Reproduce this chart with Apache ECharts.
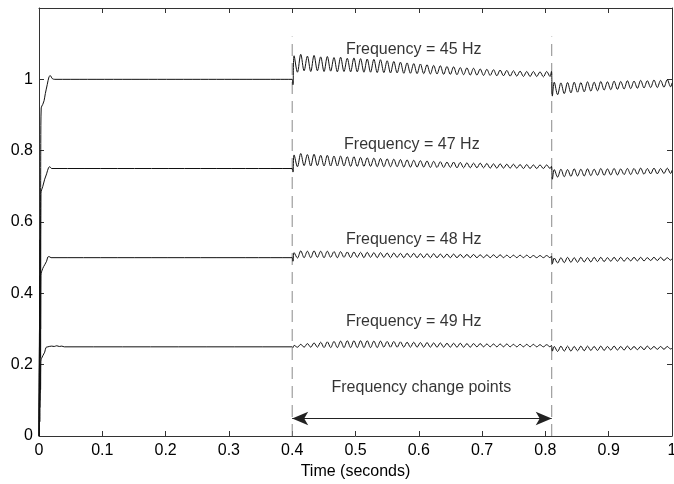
<!DOCTYPE html>
<html>
<head>
<meta charset="utf-8">
<script src="https://cdn.jsdelivr.net/npm/echarts/dist/echarts.min.js"></script>
<style>
html,body{margin:0;padding:0;background:#fff;}
#chart{width:674px;height:484px;}
</style>
</head>
<body>
<div id="chart"></div>
<script>
// ---------------- data ----------------
const xTicks = [0, 0.1, 0.2, 0.3, 0.4, 0.5, 0.6, 0.7, 0.8, 0.9, 1];
const yTicks = [0, 0.2, 0.4, 0.6, 0.8, 1];
const seriesNames = ['45 Hz', '47 Hz', '48 Hz', '49 Hz'];
const levels = [1, 0.75, 0.5, 0.25];

// start-up transients
const startT = [
  [0, 0.0008, 0.0012, 0.0018, 0.0022, 0.0028, 0.0035, 0.006, 0.008, 0.010, 0.013, 0.016, 0.018, 0.021, 0.025],
  [0, 0.0008, 0.0012, 0.0018, 0.0025, 0.003, 0.006, 0.009, 0.012, 0.015, 0.017, 0.020],
  [0, 0.0008, 0.0012, 0.0018, 0.0025, 0.003, 0.006, 0.009, 0.012, 0.014, 0.016, 0.019],
  [0, 0.0008, 0.0012, 0.0018, 0.0025, 0.003, 0.006, 0.009, 0.011, 0.014, 0.020, 0.024, 0.028, 0.032, 0.036, 0.040]
];
const startY = [
  [0, 0.30, 0.12, 0.55, 0.35, 0.82, 0.92, 0.93, 0.94, 0.96, 0.985, 1.008, 1.010, 1.002, 1.000],
  [0, 0.25, 0.10, 0.45, 0.30, 0.68, 0.70, 0.72, 0.735, 0.752, 0.755, 0.750],
  [0, 0.20, 0.08, 0.40, 0.22, 0.45, 0.47, 0.48, 0.49, 0.502, 0.503, 0.500],
  [0, 0.12, 0.04, 0.20, 0.13, 0.21, 0.225, 0.235, 0.248, 0.250, 0.252, 0.251, 0.253, 0.251, 0.252, 0.250]
];

// event times: first change, dip after it, last peak before second change, drop, end
const eventTimes = [0.4, 0.4012, 0.8095, 0.8110, 1.0];
const dipAt04 = [0.985, 0.740, 0.490, 0.248];
const peakBefore081 = [1.022, 0.756, 0.504, 0.254];
const dropAt081 = [0.953, 0.720, 0.483, 0.238];
const endValues = [0.990, 0.745, 0.497, 0.246];

// oscillation sample times (peaks / troughs) between the change points
const tA = [
  0.4030, 0.4083, 0.4135, 0.4188, 0.4240, 0.4293, 0.4345, 0.4398, 0.4450, 0.4503,
  0.4555, 0.4608, 0.4660, 0.4713, 0.4765, 0.4818, 0.4870, 0.4923, 0.4975, 0.5028,
  0.5080, 0.5133, 0.5185, 0.5238, 0.5290, 0.5343, 0.5395, 0.5448, 0.5500, 0.5553,
  0.5605, 0.5658, 0.5710, 0.5763, 0.5815, 0.5868, 0.5920, 0.5973, 0.6025, 0.6078,
  0.6130, 0.6183, 0.6235, 0.6288, 0.6340, 0.6393, 0.6445, 0.6498, 0.6550, 0.6603,
  0.6655, 0.6708, 0.6760, 0.6813, 0.6865, 0.6918, 0.6970, 0.7023, 0.7075, 0.7128,
  0.7180, 0.7233, 0.7285, 0.7338, 0.7390, 0.7443, 0.7495, 0.7548, 0.7600, 0.7653,
  0.7705, 0.7758, 0.7810, 0.7863, 0.7915, 0.7968, 0.8020, 0.8073
];
const tB = [
  0.8140, 0.8193, 0.8245, 0.8298, 0.8350, 0.8403, 0.8455, 0.8508, 0.8560, 0.8613,
  0.8665, 0.8718, 0.8770, 0.8823, 0.8875, 0.8928, 0.8980, 0.9033, 0.9085, 0.9138,
  0.9190, 0.9243, 0.9295, 0.9348, 0.9400, 0.9453, 0.9505, 0.9558, 0.9610, 0.9663,
  0.9715, 0.9768, 0.9820, 0.9873, 0.9925, 0.9978
];

const osc45A = [
  1.066,1.020, 1.070,1.024, 1.065,1.022, 1.067,1.024, 1.063,1.022,
  1.064,1.023, 1.061,1.021, 1.062,1.022, 1.059,1.021, 1.060,1.021,
  1.058,1.020, 1.057,1.020, 1.056,1.019, 1.055,1.019, 1.052,1.018,
  1.050,1.018, 1.048,1.017, 1.046,1.017, 1.044,1.016, 1.043,1.016,
  1.041,1.015, 1.039,1.015, 1.038,1.014, 1.036,1.014, 1.035,1.013,
  1.033,1.013, 1.032,1.012, 1.031,1.012, 1.029,1.011, 1.028,1.011,
  1.027,1.010, 1.026,1.010, 1.025,1.009, 1.024,1.009, 1.023,1.008,
  1.022,1.008, 1.022,1.008, 1.021,1.007, 1.022,1.008
];
const osc47A = [
  0.788,0.755, 0.792,0.758, 0.789,0.757, 0.790,0.758, 0.787,0.757,
  0.787,0.757, 0.785,0.757, 0.785,0.757, 0.783,0.756, 0.783,0.756,
  0.781,0.756, 0.780,0.756, 0.779,0.755, 0.778,0.755, 0.777,0.755,
  0.776,0.755, 0.775,0.754, 0.774,0.754, 0.773,0.754, 0.772,0.754,
  0.771,0.753, 0.770,0.753, 0.769,0.753, 0.768,0.753, 0.768,0.752,
  0.767,0.752, 0.766,0.752, 0.765,0.752, 0.765,0.752, 0.764,0.751,
  0.763,0.751, 0.763,0.751, 0.762,0.751, 0.762,0.751, 0.761,0.750,
  0.761,0.750, 0.760,0.750, 0.760,0.750, 0.760,0.750
];
const osc48A = [
  0.514,0.499, 0.519,0.500, 0.518,0.500, 0.519,0.501, 0.518,0.500,
  0.518,0.501, 0.517,0.500, 0.517,0.501, 0.516,0.500, 0.516,0.501,
  0.515,0.500, 0.515,0.501, 0.514,0.500, 0.514,0.501, 0.513,0.500,
  0.513,0.501, 0.512,0.500, 0.512,0.501, 0.512,0.500, 0.511,0.500,
  0.511,0.500, 0.511,0.500, 0.510,0.500, 0.510,0.500, 0.510,0.500,
  0.509,0.500, 0.509,0.500, 0.509,0.500, 0.508,0.500, 0.508,0.500,
  0.508,0.500, 0.508,0.500, 0.507,0.500, 0.507,0.500, 0.507,0.500,
  0.507,0.500, 0.506,0.500, 0.506,0.500, 0.506,0.500
];
const osc49A = [
  0.254,0.249, 0.257,0.249, 0.259,0.249, 0.261,0.249, 0.263,0.248,
  0.264,0.248, 0.265,0.248, 0.266,0.248, 0.267,0.248, 0.267,0.248,
  0.267,0.248, 0.267,0.248, 0.266,0.248, 0.266,0.249, 0.265,0.249,
  0.265,0.249, 0.264,0.249, 0.263,0.249, 0.263,0.249, 0.262,0.249,
  0.262,0.249, 0.261,0.249, 0.261,0.249, 0.260,0.249, 0.260,0.249,
  0.260,0.249, 0.259,0.249, 0.259,0.250, 0.259,0.250, 0.258,0.250,
  0.258,0.250, 0.258,0.250, 0.258,0.250, 0.257,0.250, 0.257,0.250,
  0.257,0.250, 0.257,0.250, 0.256,0.250, 0.256,0.250
];
const osc45B = [
  0.992,0.957, 0.990,0.960, 0.991,0.962, 0.992,0.964, 0.991,0.965, 0.993,0.967,
  0.992,0.968, 0.994,0.970, 0.993,0.971, 0.995,0.972, 0.994,0.973, 0.996,0.974,
  0.995,0.975, 0.997,0.976, 0.996,0.977, 0.998,0.977, 0.997,0.978, 0.999,0.979
];
const osc47B = [
  0.747,0.726, 0.748,0.727, 0.747,0.728, 0.749,0.729, 0.748,0.729, 0.749,0.730,
  0.748,0.731, 0.750,0.731, 0.749,0.732, 0.750,0.732, 0.749,0.733, 0.750,0.733,
  0.750,0.734, 0.751,0.734, 0.750,0.735, 0.751,0.735, 0.750,0.736, 0.751,0.736
];
const osc48B = [
  0.499,0.485, 0.500,0.486, 0.501,0.487, 0.500,0.487, 0.501,0.488, 0.500,0.488,
  0.501,0.489, 0.501,0.489, 0.500,0.490, 0.501,0.490, 0.501,0.490, 0.500,0.491,
  0.501,0.491, 0.501,0.491, 0.500,0.492, 0.501,0.492, 0.501,0.492, 0.500,0.493
];
const osc49B = [
  0.251,0.237, 0.252,0.238, 0.252,0.238, 0.251,0.239, 0.252,0.239, 0.252,0.240,
  0.251,0.240, 0.252,0.240, 0.251,0.241, 0.252,0.241, 0.251,0.241, 0.252,0.242,
  0.251,0.242, 0.251,0.242, 0.252,0.243, 0.251,0.243, 0.251,0.243, 0.251,0.244
];
const oscA = [osc45A, osc47A, osc48A, osc49A];
const oscB = [osc45B, osc47B, osc48B, osc49B];

// annotations
const changeTimes = [0.4, 0.81];
const changeLineTop = 1.12;
const arrowY = 0.049;
const labelTexts = ['Frequency = 45 Hz', 'Frequency = 47 Hz', 'Frequency = 48 Hz', 'Frequency = 49 Hz', 'Frequency change points'];
const labelX = [0.592, 0.589, 0.592, 0.592, 0.604];
const labelY = [1.084, 0.818, 0.550, 0.321, 0.137];

// ---------------- build ----------------
function buildTrace(k) {
  const pts = [];
  startT[k].forEach((t, i) => pts.push([t, startY[k][i]]));
  pts.push([eventTimes[0], levels[k]]);
  pts.push([eventTimes[1], dipAt04[k]]);
  tA.forEach((t, i) => pts.push([t, oscA[k][i]]));
  pts.push([eventTimes[2], peakBefore081[k]]);
  pts.push([eventTimes[3], dropAt081[k]]);
  tB.forEach((t, i) => pts.push([t, oscB[k][i]]));
  pts.push([eventTimes[4], endValues[k]]);
  return pts;
}

const FONT = 'Liberation Sans, Arial, sans-serif';
const series = [];

changeTimes.forEach((t) => {
  series.push({
    type: 'line', silent: true, symbol: 'none', animation: false, z: 1,
    data: [[t, 0], [t, changeLineTop]],
    lineStyle: { color: '#8a8a8a', width: 1, type: [12, 7] }
  });
});

seriesNames.forEach((name, k) => {
  series.push({
    name: name, type: 'line', symbol: 'none', animation: false, z: 3,
    smooth: 0.35,
    data: buildTrace(k),
    lineStyle: { color: '#111', width: 1 }
  });
});

series.push({
  type: 'scatter', silent: true, animation: false, symbolSize: 1, z: 4,
  itemStyle: { color: 'rgba(0,0,0,0)' },
  data: labelTexts.map((s, i) => ({ name: s, value: [labelX[i], labelY[i]] })),
  label: {
    show: true, position: 'inside', formatter: (p) => p.name,
    color: '#000', fontSize: 16, fontFamily: FONT
  },
  markLine: {
    silent: true, animation: false,
    symbol: ['arrow', 'arrow'], symbolSize: [10, 16],
    label: { show: false },
    lineStyle: { color: '#222', width: 1, type: 'solid' },
    data: [[{ coord: [changeTimes[0], arrowY] }, { coord: [changeTimes[1], arrowY] }]]
  }
});

// empty series to attach the top / right frame axes
series.push({ type: 'line', data: [], xAxisIndex: 1, yAxisIndex: 1, silent: true, symbol: 'none' });

const axisLineStyle = { color: '#333', width: 1 };
const fmt = (v) => String(+(+v).toFixed(1));

const option = {
  backgroundColor: '#fff',
  animation: false,
  grid: { left: 39, right: 2, top: 8, bottom: 48, containLabel: false, outerBoundsMode: 'none' },
  xAxis: [
    {
      type: 'value', min: xTicks[0], max: xTicks[xTicks.length - 1], interval: 0.1, position: 'bottom',
      name: 'Time (seconds)', nameLocation: 'middle', nameGap: 28,
      nameTextStyle: { color: '#000', fontSize: 16, fontFamily: FONT },
      axisLine: { show: true, lineStyle: axisLineStyle },
      axisTick: { show: true, inside: true, length: 5, lineStyle: axisLineStyle },
      axisLabel: { color: '#000', fontSize: 16, fontFamily: FONT, margin: 7, formatter: fmt, hideOverlap: false },
      splitLine: { show: false }
    },
    {
      type: 'value', min: 0, max: 1, interval: 0.1, position: 'top',
      axisLine: { show: true, onZero: false, lineStyle: axisLineStyle },
      axisTick: { show: true, inside: true, length: 5, lineStyle: axisLineStyle },
      axisLabel: { show: false }, splitLine: { show: false }
    }
  ],
  yAxis: [
    {
      type: 'value', min: yTicks[0], max: 1.2, interval: 0.2, position: 'left',
      axisLine: { show: true, lineStyle: axisLineStyle },
      axisTick: { show: true, inside: true, length: 5, lineStyle: axisLineStyle },
      axisLabel: {
        color: '#000', fontSize: 16, fontFamily: FONT, margin: 6,
        formatter: (v) => (v > yTicks[yTicks.length - 1] + 0.01 ? '' : fmt(v))
      },
      splitLine: { show: false }
    },
    {
      type: 'value', min: 0, max: 1.2, interval: 0.2, position: 'right',
      axisLine: { show: true, onZero: false, lineStyle: axisLineStyle },
      axisTick: { show: true, inside: true, length: 5, lineStyle: axisLineStyle },
      axisLabel: { show: false }, splitLine: { show: false }
    }
  ],
  series: series
};

const chart = echarts.init(document.getElementById('chart'), null, { renderer: 'canvas' });
chart.setOption(option);
</script>
</body>
</html>
